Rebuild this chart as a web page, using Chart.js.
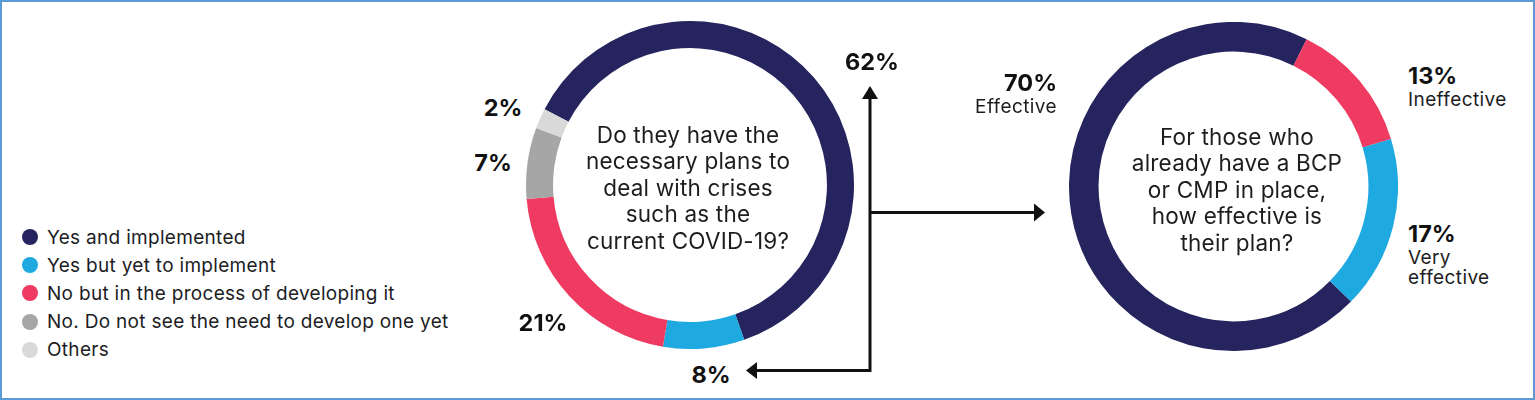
<!DOCTYPE html>
<html>
<head>
<meta charset="utf-8">
<script src="https://cdn.jsdelivr.net/npm/chart.js@4/dist/chart.umd.min.js"></script>
<style>
  html, body { margin: 0; padding: 0; background: #fff; }
  body { width: 1535px; height: 400px; position: relative; overflow: hidden; font-family: Inter, "Noto Sans", sans-serif; color: #1d1d1f; }
  .frame { position: absolute; left: 0; top: 0; width: 1535px; height: 400px; box-sizing: border-box; border: 2px solid #5b9bd5; }
  .wrap { position: absolute; }
  .center-text { position: absolute; text-align: center; font-size: 22.5px; letter-spacing: 0.2px; line-height: 26.4px; transform: translateX(-50%); white-space: nowrap; }
  .pct { position: absolute; font-weight: 700; font-size: 23.5px; line-height: 1; color: #111; white-space: nowrap; }
  .sub { position: absolute; font-size: 19px; letter-spacing: 0.4px; line-height: 20px; white-space: nowrap; }
  #legend { position: absolute; left: 22px; top: 223px; margin: 0; padding: 0; list-style: none; }
  #legend li { height: 28.2px; display: flex; align-items: center; font-size: 19px; letter-spacing: 0.3px; }
  #legend span { display: inline-block; width: 16px; height: 16px; border-radius: 50%; margin-right: 9px; }
  svg { position: absolute; left: 0; top: 0; }
</style>
</head>
<body>
<div class="frame"></div>

<div class="wrap" style="left:526px; top:21px; width:328px; height:328px;"><canvas id="plans" width="328" height="328"></canvas></div>
<div class="wrap" style="left:1069px; top:22px; width:329px; height:329px;"><canvas id="effect" width="329" height="329"></canvas></div>

<ul id="legend"></ul>

<div class="center-text" style="left:688px; top:122px;">Do they have the<br>necessary plans to<br>deal with crises<br>such as the<br>current COVID-19?</div>
<div class="center-text" style="left:1237px; top:124px;">For those who<br>already have a BCP<br>or CMP in place,<br>how effective is<br>their plan?</div>

<div id="labels"></div>

<svg width="1535" height="400">
  <g stroke="#111" stroke-width="3" fill="none">
    <polyline points="870,97 870,370.5 755,370.5"/>
    <line x1="870" y1="212.5" x2="1036" y2="212.5"/>
  </g>
  <g fill="#111">
    <polygon points="870,86 862,99 878,99"/>
    <polygon points="746,370.5 757,362 757,379"/>
    <polygon points="1045,212.5 1034,203.5 1034,221.5"/>
  </g>
</svg>

<script>
const planLabels = ['Yes and implemented', 'Yes but yet to implement', 'No but in the process of developing it', 'No. Do not see the need to develop one yet', 'Others'];
const planValues = [62, 8, 21, 7, 2];
const planColors = ['#25245e', '#1fa9e1', '#ef3a61', '#a6a6a6', '#d9d9d9'];

const effectLabels = ['Effective', 'Ineffective', 'Very effective'];
const effectValues = [70, 13, 17];
const effectColors = ['#25245e', '#ef3a61', '#1fa9e1'];

// where each percentage sits around the rings
const planLabelPos = [
  {x: 872, y: 62, align: 'center'},
  {x: 711, y: 375, align: 'center'},
  {x: 543, y: 323, align: 'center'},
  {x: 493, y: 163, align: 'center'},
  {x: 503, y: 108, align: 'center'}
];
const effectLabelPos = [
  {x: 1057, y: 83, align: 'right', sub: ['Effective']},
  {x: 1408, y: 76, align: 'left', sub: ['Ineffective']},
  {x: 1408, y: 234, align: 'left', sub: ['Very', 'effective']}
];

function ringOptions(rotation, cutout) {
  return {
    responsive: false,
    animation: false,
    cutout: cutout,
    rotation: rotation,
    layout: {padding: 0},
    plugins: {legend: {display: false}, tooltip: {enabled: false}},
    events: []
  };
}

new Chart('plans', {
  type: 'doughnut',
  data: {
    labels: planLabels,
    datasets: [{data: planValues, backgroundColor: planColors, borderWidth: 0, hoverOffset: 0, offset: 0}]
  },
  options: ringOptions(-62.5, '83.5%')
});

new Chart('effect', {
  type: 'doughnut',
  data: {
    labels: effectLabels,
    datasets: [{data: effectValues, backgroundColor: effectColors, borderWidth: 0, hoverOffset: 0, offset: 0}]
  },
  options: ringOptions(-225.6, '82%')
});

// legend
const legend = document.getElementById('legend');
planLabels.forEach((lab, i) => {
  const li = document.createElement('li');
  li.innerHTML = '<span style="background:' + planColors[i] + '"></span>' + lab;
  legend.appendChild(li);
});

// percentage labels
const labels = document.getElementById('labels');
function addPct(value, pos) {
  const d = document.createElement('div');
  d.className = 'pct';
  d.textContent = value + '%';
  d.style.top = (pos.y - 12) + 'px';
  if (pos.align === 'center') { d.style.left = pos.x + 'px'; d.style.transform = 'translateX(-50%)'; }
  else if (pos.align === 'left') { d.style.left = pos.x + 'px'; }
  else { d.style.right = (1535 - pos.x) + 'px'; }
  labels.appendChild(d);
  if (pos.sub) {
    const s = document.createElement('div');
    s.className = 'sub';
    s.innerHTML = pos.sub.join('<br>');
    s.style.top = (pos.y + 14) + 'px';
    s.style.textAlign = pos.align;
    if (pos.align === 'left') s.style.left = pos.x + 'px';
    else s.style.right = (1535 - pos.x) + 'px';
    labels.appendChild(s);
  }
}
planValues.forEach((v, i) => addPct(v, planLabelPos[i]));
effectValues.forEach((v, i) => addPct(v, effectLabelPos[i]));
</script>
</body>
</html>
